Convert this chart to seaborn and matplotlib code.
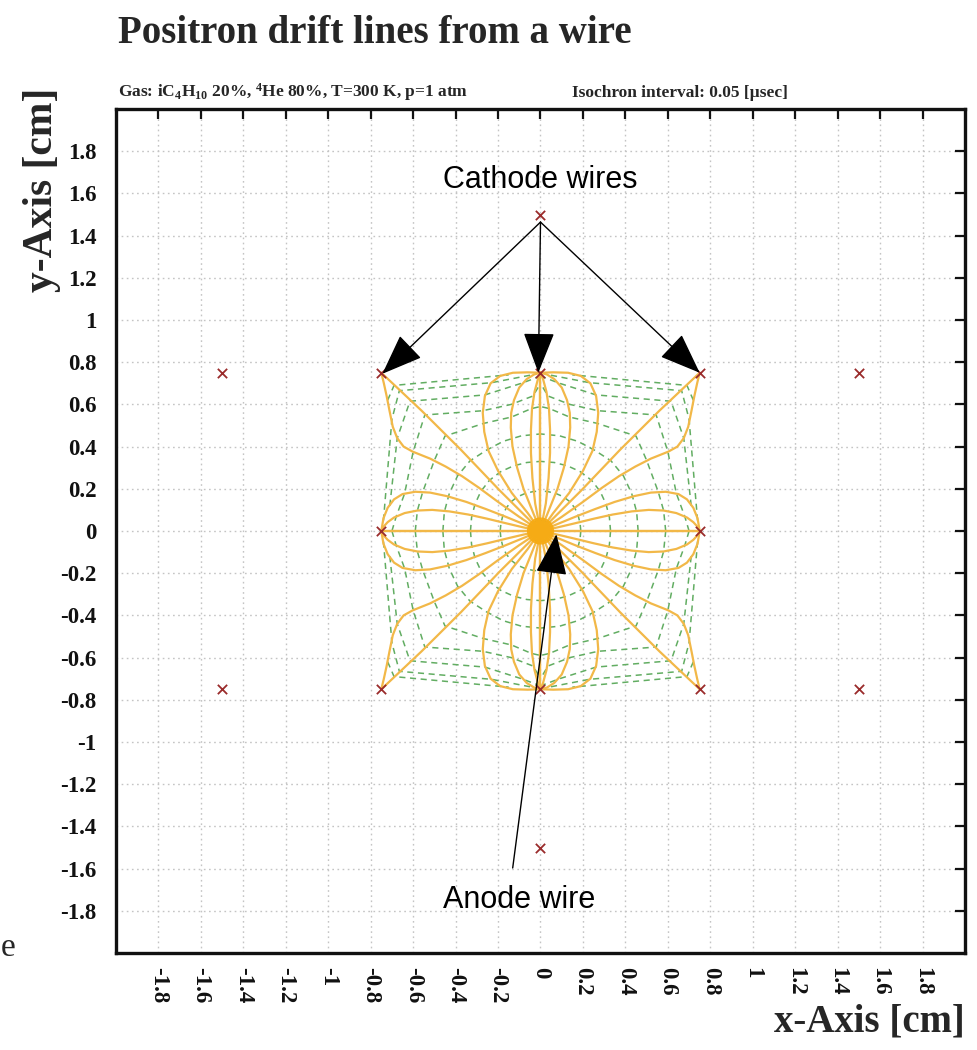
import numpy as np
import pandas as pd
import matplotlib
matplotlib.use("Agg")
import matplotlib.pyplot as plt
import seaborn as sns

# ---------------- data ----------------
title = "Positron drift lines from a wire"
subtitle_gas = r"Gas: iC$_4$H$_{10}$ 20%, $^4$He 80%, T=300 K, p=1 atm"
subtitle_iso = "Isochron interval: 0.05 [µsec]"
xlabel = "x-Axis [cm]"
ylabel = "y-Axis [cm]"
tick_values = [-1.8, -1.6, -1.4, -1.2, -1.0, -0.8, -0.6, -0.4, -0.2, 0.0,
               0.2, 0.4, 0.6, 0.8, 1.0, 1.2, 1.4, 1.6, 1.8]

# wires (cm)
anode_x = [0.0]
anode_y = [0.0]
cathode_x = [-0.75, 0.0, 0.75, -0.75, 0.75, -0.75, 0.0, 0.75, -1.5, 1.5, -1.5, 1.5, 0.0, 0.0]
cathode_y = [0.75, 0.75, 0.75, 0.0, 0.0, -0.75, -0.75, -0.75, 0.75, 0.75, -0.75, -0.75, 1.5, -1.5]

# drift lines of the first quadrant (the picture is mirror symmetric in x and y)
line_h_x = [0.0, 0.75]
line_h_y = [0.0, 0.0]
line_s1_x = [0.0, 0.08, 0.16, 0.25, 0.34, 0.43, 0.51, 0.58, 0.64, 0.69, 0.72, 0.74, 0.75]
line_s1_y = [0.0, 0.017, 0.036, 0.058, 0.078, 0.093, 0.1, 0.097, 0.085, 0.064, 0.042, 0.02, 0.0]
line_s2_x = [0.0, 0.08, 0.17, 0.26, 0.35, 0.44, 0.52, 0.59, 0.65, 0.69, 0.72, 0.74, 0.75]
line_s2_y = [0.0, 0.033, 0.07, 0.105, 0.138, 0.165, 0.182, 0.186, 0.175, 0.15, 0.11, 0.06, 0.0]
line_d_x = [0.0, 0.1, 0.2, 0.29, 0.37, 0.446, 0.52, 0.602, 0.645, 0.675, 0.696, 0.712, 0.725, 0.738, 0.75]
line_d_y = [0.0, 0.067, 0.138, 0.205, 0.26, 0.305, 0.343, 0.376, 0.4, 0.44, 0.494, 0.573, 0.64, 0.7, 0.75]
line_e_x = [0.0, 0.19, 0.375, 0.56, 0.75]
line_e_y = [0.0, 0.19, 0.385, 0.57, 0.75]
line_t1_x = [0.0, 0.06, 0.135, 0.2, 0.245, 0.265, 0.272, 0.262, 0.235, 0.19, 0.13, 0.06, 0.0]
line_t1_y = [0.0, 0.085, 0.18, 0.285, 0.38, 0.47, 0.56, 0.64, 0.7, 0.735, 0.75, 0.752, 0.75]
line_t2_x = [0.0, 0.04, 0.08, 0.11, 0.132, 0.14, 0.138, 0.125, 0.1, 0.065, 0.03, 0.0]
line_t2_y = [0.0, 0.1, 0.2, 0.3, 0.4, 0.49, 0.56, 0.62, 0.68, 0.72, 0.742, 0.75]
line_t3_x = [0.0, 0.025, 0.038, 0.045, 0.045, 0.04, 0.028, 0.012, 0.0]
line_t3_y = [0.0, 0.13, 0.25, 0.37, 0.48, 0.58, 0.66, 0.72, 0.75]
line_v_x = [0.0, 0.0]
line_v_y = [0.0, 0.75]

# isochrons, first quadrant. Inner ones: radius (cm) at the launch angles of the lines
iso_angles_deg = [0, 11.25, 22.5, 33.75, 45, 56.25, 67.5, 78.75, 90]
iso_r1 = [0.05, 0.05, 0.05, 0.05, 0.05, 0.05, 0.05, 0.05, 0.05]
iso_r2 = [0.19, 0.19, 0.192, 0.195, 0.196, 0.195, 0.192, 0.19, 0.19]
iso_r3 = [0.33, 0.331, 0.334, 0.338, 0.34, 0.338, 0.334, 0.331, 0.33]
iso_r4 = [0.46, 0.462, 0.465, 0.47, 0.47, 0.46, 0.46, 0.46, 0.46]
# outer ones: points where they cross the drift lines (x, y)
iso5_x = [0.59, 0.58, 0.555, 0.50, 0.45, 0.268, 0.137, 0.043, 0.0]
iso5_y = [0.0, 0.097, 0.185, 0.335, 0.45, 0.51, 0.54, 0.58, 0.59]
iso6_x = [0.70, 0.68, 0.64, 0.60, 0.545, 0.272, 0.138, 0.035, 0.0]
iso6_y = [0.0, 0.068, 0.178, 0.376, 0.55, 0.57, 0.60, 0.64, 0.70]
iso7_x = [0.71, 0.675, 0.615, 0.262, 0.09, 0.01]
iso7_y = [0.12, 0.44, 0.615, 0.645, 0.70, 0.73]
iso8_x = [0.74, 0.70, 0.665, 0.23, 0.03]
iso8_y = [0.05, 0.53, 0.665, 0.703, 0.742]
iso9_x = [0.72, 0.69, 0.15]
iso9_y = [0.62, 0.69, 0.74]

# ---------------- build long tables ----------------
quad_lines = [(line_h_x, line_h_y), (line_s1_x, line_s1_y), (line_s2_x, line_s2_y),
              (line_d_x, line_d_y), (line_e_x, line_e_y), (line_t1_x, line_t1_y),
              (line_t2_x, line_t2_y), (line_t3_x, line_t3_y), (line_v_x, line_v_y)]
signs = [(1, 1), (-1, 1), (1, -1), (-1, -1)]


def mirrored(curves):
    rows = []
    uid = 0
    for lx, ly in curves:
        for sx, sy in signs:
            for k, (a, b) in enumerate(zip(lx, ly)):
                rows.append(dict(unit=uid, k=k, x=sx * a, y=sy * b))
            uid += 1
    return pd.DataFrame(rows)


drift = mirrored(quad_lines)

th = np.deg2rad(iso_angles_deg)
iso_curves = [(np.array(r) * np.cos(th), np.array(r) * np.sin(th))
              for r in [iso_r1, iso_r2, iso_r3, iso_r4]]
iso_curves += [(iso5_x, iso5_y), (iso6_x, iso6_y), (iso7_x, iso7_y),
               (iso8_x, iso8_y), (iso9_x, iso9_y)]
iso = mirrored(iso_curves)

wires = pd.DataFrame(dict(x=cathode_x, y=cathode_y))
anode = pd.DataFrame(dict(x=anode_x, y=anode_y))

# ---------------- figure ----------------
sns.set_theme(style="white")
plt.rcParams["font.family"] = ["Liberation Serif", "DejaVu Serif"]
plt.rcParams["mathtext.fontset"] = "custom"
plt.rcParams["mathtext.rm"] = "Liberation Serif:bold"
plt.rcParams["mathtext.it"] = "Liberation Serif:italic:bold"
plt.rcParams["mathtext.bf"] = "Liberation Serif:bold"

fig = plt.figure(figsize=(9.78, 10.5), dpi=100)
fig.patch.set_facecolor("white")
ax = fig.add_axes([116 / 978, 1 - 953 / 1050, 849 / 978, 844 / 1050])

ax.set_xlim(-2, 2)
ax.set_ylim(-2, 2)
ax.set_xticks(tick_values)
ax.set_yticks(tick_values)
ax.grid(True, color="#c4c4c4", linestyle=(0, (1.2, 2.5)), linewidth=1.0)
ax.set_axisbelow(True)

sns.lineplot(data=iso, x="x", y="y", units="unit", estimator=None, sort=False,
             color="#62ad62", linewidth=1.1, linestyle=(0, (4, 3)), ax=ax, zorder=2)
sns.lineplot(data=drift, x="x", y="y", units="unit", estimator=None, sort=False,
             color="#f2b848", linewidth=1.6, ax=ax, zorder=3)
sns.scatterplot(data=anode, x="x", y="y", s=380, color="#f7aa10", edgecolor="none",
                alpha=0.9, ax=ax, zorder=4)
sns.scatterplot(data=wires, x="x", y="y", marker="x", s=45, color="#9a2b2b",
                linewidth=1.3, ax=ax, zorder=5)

ax.set_xlabel("")
ax.set_ylabel("")
fmt = lambda v: "%g" % v
ax.set_xticklabels([fmt(v) for v in tick_values], rotation=-90,
                   fontsize=16.5, fontweight="bold")
ax.set_yticklabels([fmt(v) for v in tick_values], fontsize=16.5, fontweight="bold")
ax.tick_params(axis="both", direction="in", length=7, width=1.6,
               top=True, right=True, colors="#111111")
ax.tick_params(axis="x", pad=10)
ax.tick_params(axis="y", pad=14)
for sp in ax.spines.values():
    sp.set_visible(True)
    sp.set_linewidth(2.4)
    sp.set_color("#111111")

# annotations
ann_font = dict(family=["Liberation Sans", "DejaVu Sans"], fontsize=22, color="black")
ax.text(0.0, 1.664, "Cathode wires", ha="center", va="center", **ann_font)
ax.text(-0.103, -1.749, "Anode wire", ha="center", va="center", **ann_font)
arrow = dict(arrowstyle="-|>,head_length=1.3,head_width=0.5", color="black",
             lw=1.0, mutation_scale=20, shrinkA=0, shrinkB=0)
for tip in [(-0.745, 0.745), (-0.01, 0.75), (0.75, 0.75)]:
    ax.annotate("", xy=tip, xytext=(0.0, 1.464), arrowprops=arrow, zorder=6)
ax.annotate("", xy=(0.075, -0.015), xytext=(-0.131, -1.597), arrowprops=arrow, zorder=6)

# titles and axis labels
fig.text(118 / 978, 1 - 43 / 1050, title, fontsize=28, fontweight="bold",
         ha="left", va="baseline")
fig.text(118 / 978, 1 - 97 / 1050, subtitle_gas, fontsize=12.5, fontweight="bold",
         ha="left", va="baseline")
fig.text(572 / 978, 1 - 97 / 1050, subtitle_iso, fontsize=12.5, fontweight="bold",
         ha="left", va="baseline")
fig.text(42 / 978, 1 - 190 / 1050, ylabel, fontsize=30, fontweight="bold",
         rotation=90, ha="center", va="center")
fig.text(965 / 978, 1 - 1022 / 1050, xlabel, fontsize=28, fontweight="bold",
         ha="right", va="center")
fig.text(0.001, 1 - 948 / 1050, "e", fontsize=24, ha="left", va="center")

fig.savefig("out.png", dpi=100, facecolor="white")
